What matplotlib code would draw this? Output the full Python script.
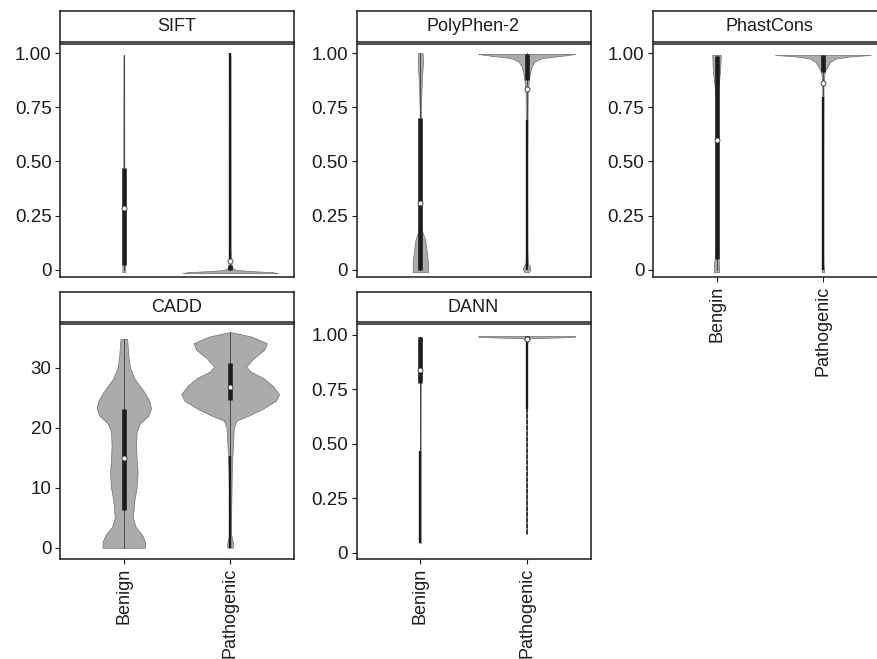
import numpy as np
import matplotlib.pyplot as plt

plt.rcParams['font.family'] = ['Liberation Sans', 'DejaVu Sans']

panels = ["SIFT", "PolyPhen-2", "PhastCons", "CADD", "DANN"]
groups = ["Benign", "Pathogenic"]
phast_groups = ["Bengin", "Pathogenic"]   # spelled like this in the original figure

# violin outlines: y values and half widths (x units)
sift_b_y = [-0.012, 0.0, 0.03, 0.1, 0.5, 0.99]
sift_b_w = [0.014, 0.014, 0.010, 0.006, 0.005, 0.004]
sift_p_y = [-0.016, -0.012, -0.008, -0.004, 0.0, 0.01, 0.03, 0.1, 0.99]
sift_p_w = [0.45, 0.40, 0.25, 0.12, 0.05, 0.02, 0.008, 0.004, 0.003]

pph_b_y = [-0.012, 0.03, 0.077, 0.14, 0.185, 0.25, 0.5, 0.74, 0.82, 0.89, 0.96, 1.0]
pph_b_w = [0.072, 0.072, 0.062, 0.045, 0.012, 0.006, 0.005, 0.006, 0.010, 0.016, 0.025, 0.022]
pph_p_y = [-0.012, 0.0, 0.015, 0.03, 0.1, 0.5, 0.82, 0.87, 0.91, 0.938, 0.961, 0.977, 0.988, 0.997]
pph_p_w = [0.02, 0.035, 0.03, 0.01, 0.006, 0.005, 0.010, 0.020, 0.031, 0.047, 0.075, 0.14, 0.33, 0.46]

phc_b_y = [-0.012, 0.03, 0.077, 0.12, 0.5, 0.8, 0.85, 0.9, 0.94, 0.992]
phc_b_w = [0.025, 0.023, 0.010, 0.006, 0.005, 0.007, 0.018, 0.030, 0.036, 0.040]
phc_p_y = [-0.012, 0.0, 0.02, 0.1, 0.5, 0.85, 0.9, 0.92, 0.94, 0.96, 0.975, 0.985, 0.992]
phc_p_w = [0.010, 0.012, 0.005, 0.004, 0.004, 0.006, 0.012, 0.022, 0.045, 0.07, 0.12, 0.25, 0.45]

cadd_b_y = [0.0, 1.0, 2.2, 3.5, 5.0, 8.0, 10.0, 12.5, 14.9, 17.0, 19.3, 20.7, 22.0,
            23.2, 24.5, 26.0, 28.2, 29.9, 31.6, 34.8]
cadd_b_w = [0.20, 0.20, 0.17, 0.11, 0.085, 0.10, 0.12, 0.13, 0.12, 0.115, 0.12, 0.15, 0.23,
            0.255, 0.24, 0.19, 0.10, 0.06, 0.045, 0.031]
cadd_p_y = [0.0, 0.6, 1.3, 2.4, 6.8, 12.4, 15.1, 17.9, 20.1, 21.2, 22.0, 23.1, 24.5,
            25.6, 27.0, 28.3, 29.4, 30.2, 31.6, 33.0, 34.1, 35.2, 35.9]
cadd_p_w = [0.025, 0.03, 0.02, 0.006, 0.01, 0.015, 0.02, 0.028, 0.035, 0.06, 0.17, 0.30, 0.43,
            0.46, 0.40, 0.31, 0.19, 0.15, 0.22, 0.32, 0.345, 0.20, 0.02]

dann_b_y = [0.043, 0.3, 0.7, 0.85, 0.95, 0.99]
dann_b_w = [0.003, 0.003, 0.004, 0.006, 0.010, 0.012]
dann_p_y = [0.085, 0.5, 0.95, 0.975, 0.985, 0.988, 0.992, 0.995]
dann_p_w = [0.002, 0.002, 0.004, 0.01, 0.04, 0.3, 0.455, 0.455]

# boxplots: whisker low, q1, q3, whisker high
sift_box = [[0.0, 0.02, 0.47, 0.99], [0.0, 0.0, 0.02, 0.05]]
pph_box = [[0.0, 0.0, 0.70, 1.0], [0.69, 0.875, 0.997, 1.0]]
phc_box = [[0.0, 0.05, 0.985, 0.992], [0.80, 0.915, 0.99, 0.992]]
cadd_box = [[0.0, 6.3, 23.2, 34.8], [15.3, 24.6, 30.8, 35.9]]
dann_box = [[0.465, 0.78, 0.99, 0.99], [0.97, 0.985, 0.995, 0.995]]

# means (white dots)
sift_mean = [0.285, 0.04]
pph_mean = [0.31, 0.834]
phc_mean = [0.60, 0.862]
cadd_mean = [15.0, 26.8]
dann_mean = [0.84, 0.98]

# runs of outlier points: dense ones and sparse ones (low, high)
sift_out = [[], [(0.05, 1.0)]]
pph_out = [[], [(0.0, 0.69)]]
phc_out = [[], [(0.0, 0.80)]]
cadd_out = [[], [(0.0, 15.3)]]
dann_out = [[(0.043, 0.465)], [(0.66, 0.97)]]
dann_sparse = [[], [(0.085, 0.66)]]

# y tick values and labels
unit_ticks = [0, 0.25, 0.5, 0.75, 1.0]
unit_labels = ["0", "0.25", "0.50", "0.75", "1.00"]
cadd_ticks = [0, 10, 20, 30]
cadd_labels = ["0", "10", "20", "30"]

W, H = 877, 659
fig = plt.figure(figsize=(W / 100, H / 100), dpi=100)

FILL = '#ababab'
EDGE = '#707070'
INK = '#1c1c1c'


def px_axes(left, top, width, height):
    return fig.add_axes([left / W, 1 - (top + height) / H, width / W, height / H])


def draw_group(ax, x, vy, vw, box, mean, outs, sparse=()):
    vy = np.asarray(vy)
    vw = np.asarray(vw)
    ax.fill_betweenx(vy, x - vw, x + vw, facecolor=FILL, edgecolor=EDGE, lw=0.5, zorder=1)
    lo, q1, q3, hi = box
    ax.plot([x, x], [lo, hi], color='#4a4a4a', lw=0.7, zorder=2)
    for a, b in sparse:
        ax.plot([x, x], [a, b], color='#333333', lw=1.3, ls=(0, (2.5, 0.7)), zorder=3)
    for a, b in outs:
        ax.plot([x, x], [a, b], color=INK, lw=1.7, solid_capstyle='butt', zorder=3)
    ax.plot([x, x], [q1, q3], color=INK, lw=3.3, solid_capstyle='butt', zorder=4)
    ax.plot(x, mean, 'o', ms=3.6, mfc='white', mec='#333333', mew=0.6, zorder=5)


specs = [
    ("SIFT", (sift_b_y, sift_b_w), (sift_p_y, sift_p_w), sift_box, sift_mean, sift_out, [[], []],
     (-0.034, 1.045), unit_ticks, unit_labels, None),
    ("PolyPhen-2", (pph_b_y, pph_b_w), (pph_p_y, pph_p_w), pph_box, pph_mean, pph_out, [[], []],
     (-0.034, 1.045), unit_ticks, unit_labels, None),
    ("PhastCons", (phc_b_y, phc_b_w), (phc_p_y, phc_p_w), phc_box, phc_mean, phc_out, [[], []],
     (-0.034, 1.045), unit_ticks, unit_labels, phast_groups),
    ("CADD", (cadd_b_y, cadd_b_w), (cadd_p_y, cadd_p_w), cadd_box, cadd_mean, cadd_out, [[], []],
     (-1.88, 37.3), cadd_ticks, cadd_labels, groups),
    ("DANN", (dann_b_y, dann_b_w), (dann_p_y, dann_p_w), dann_box, dann_mean, dann_out, dann_sparse,
     (-0.029, 1.05), unit_ticks, unit_labels, groups),
]

lefts = [60, 356.5, 652.7]
panel_w = 234
rows = [(11, 31, 43.5, 233.5), (292, 30, 324, 235)]   # strip top, strip h, panel top, panel h

for i, (name, vb, vp, box, mean, outs, sparse, ylim, yt, ytl, xlabels) in enumerate(specs):
    r, c = divmod(i, 3)
    st, sh, pt, ph = rows[r]
    ax = px_axes(lefts[c], pt, panel_w, ph)
    draw_group(ax, 1, vb[0], vb[1], box[0], mean[0], outs[0], sparse[0])
    draw_group(ax, 2, vp[0], vp[1], box[1], mean[1], outs[1], sparse[1])
    ax.set_xlim(0.4, 2.6)
    ax.set_ylim(*ylim)
    ax.set_yticks(yt)
    ax.set_yticklabels(ytl)
    ax.tick_params(axis='y', length=3.5, width=0.8, pad=2.5, labelsize=13.5, colors=INK)
    if xlabels:
        ax.set_xticks([1, 2])
        ax.set_xticklabels(xlabels, rotation=90, va='top', ha='center')
        ax.tick_params(axis='x', length=3.5, width=0.8, pad=2.5, labelsize=13, colors=INK)
    else:
        ax.set_xticks([])
    for s in ax.spines.values():
        s.set_linewidth(1.1)
        s.set_color(INK)

    sx = px_axes(lefts[c], st, panel_w, sh)
    sx.set_xticks([])
    sx.set_yticks([])
    for s in sx.spines.values():
        s.set_linewidth(1.1)
        s.set_color(INK)
    sx.text(0.5, 0.5, name, ha='center', va='center', fontsize=13, color=INK,
            transform=sx.transAxes)

fig.savefig("out.png", dpi=100)
